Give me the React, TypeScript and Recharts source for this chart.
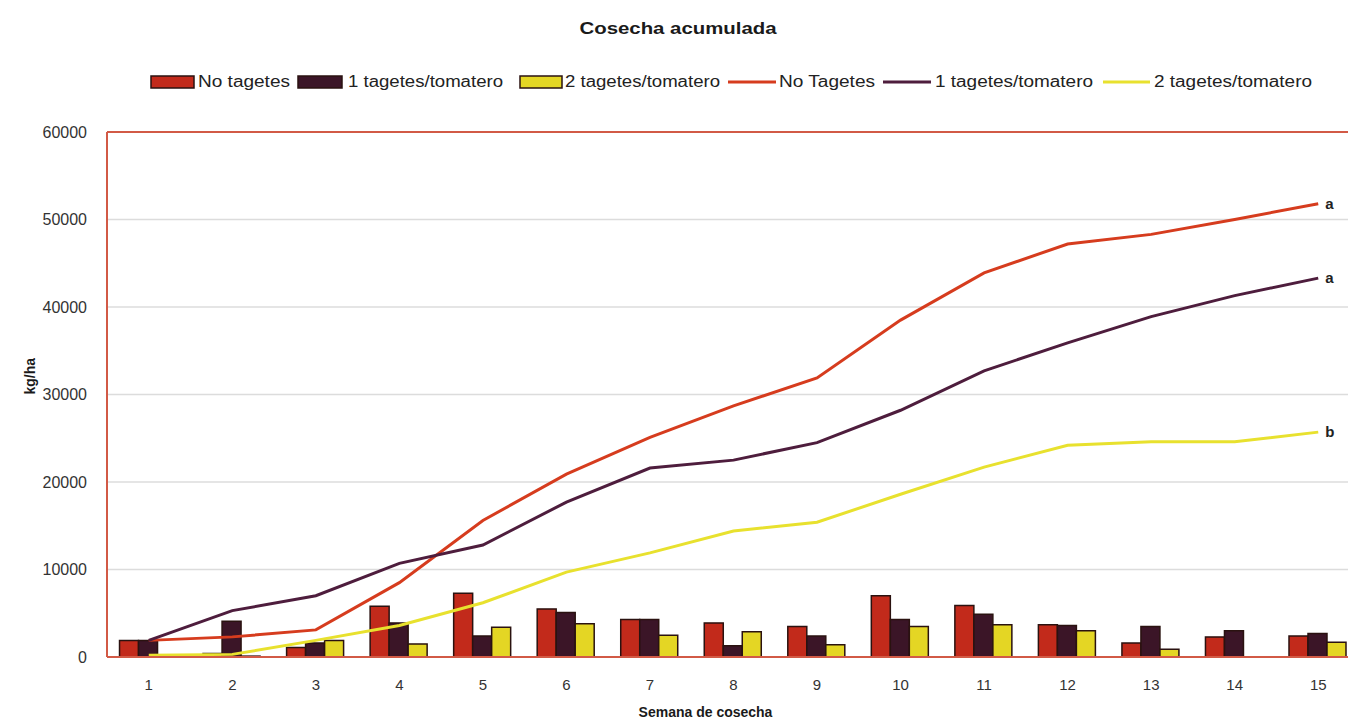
import React from 'react';
import {
  ComposedChart,
  Bar,
  Line,
  XAxis,
  YAxis,
  CartesianGrid,
  ReferenceLine,
} from 'recharts';

// Semanas de cosecha
const weeks = ['1', '2', '3', '4', '5', '6', '7', '8', '9', '10', '11', '12', '13', '14', '15'];

// Cosecha semanal (kg/ha)
const weeklyNone = [1900, 400, 1100, 5800, 7300, 5500, 4300, 3900, 3500, 7000, 5900, 3700, 1600, 2300, 2400];
const weeklyOne = [1900, 4100, 1600, 3900, 2400, 5100, 4300, 1300, 2400, 4300, 4900, 3600, 3500, 3000, 2700];
const weeklyTwo = [200, 100, 1900, 1500, 3400, 3800, 2500, 2900, 1400, 3500, 3700, 3000, 900, 0, 1700];

// Cosecha acumulada (kg/ha)
const cumNone = [1900, 2300, 3100, 8500, 15600, 20900, 25100, 28700, 31900, 38500, 43900, 47200, 48300, 50000, 51800];
const cumOne = [1900, 5300, 7000, 10700, 12800, 17700, 21600, 22500, 24500, 28200, 32700, 35900, 38900, 41300, 43300];
const cumTwo = [200, 300, 1900, 3600, 6200, 9700, 11900, 14400, 15400, 18600, 21700, 24200, 24600, 24600, 25700];

const yTicks = [0, 10000, 20000, 30000, 40000, 50000, 60000];

// Letras de significación al final de cada curva
const groupLetters = { cumNone: 'a', cumOne: 'a', cumTwo: 'b' };

const data = weeks.map((week, i) => ({
  week,
  weeklyNone: weeklyNone[i],
  weeklyOne: weeklyOne[i],
  weeklyTwo: weeklyTwo[i],
  cumNone: cumNone[i],
  cumOne: cumOne[i],
  cumTwo: cumTwo[i],
}));

const COLORS = {
  barRed: '#c22a1b',
  barDark: '#3b1527',
  barYellow: '#e4d624',
  lineRed: '#d63c1e',
  lineDark: '#4e1d3d',
  lineYellow: '#e8e12e',
  border: '#d25a46',
  outline: '#2a1210',
};

const FONT = '"Liberation Sans", Arial, sans-serif';

const endLabel = (letter: string) => (props: any) => {
  const { x, y, index } = props;
  if (index !== weeks.length - 1) return null;
  return (
    <text
      x={x + 7}
      y={y + 1}
      dominantBaseline="middle"
      fontFamily={FONT}
      fontWeight="bold"
      fontSize={15}
      fill="#222"
    >
      {letter}
    </text>
  );
};

// posiciones de la leyenda (muestra y texto)
const legendItems = [
  { type: 'bar', color: COLORS.barRed, label: 'No tagetes', sx: 151, sw: 43, tx: 198, tw: 92 },
  { type: 'bar', color: COLORS.barDark, label: '1 tagetes/tomatero', sx: 298, sw: 44, tx: 348, tw: 155 },
  { type: 'bar', color: COLORS.barYellow, label: '2 tagetes/tomatero', sx: 520, sw: 42, tx: 565, tw: 155 },
  { type: 'line', color: COLORS.lineRed, label: 'No Tagetes', sx: 728, sw: 48, tx: 779, tw: 96 },
  { type: 'line', color: COLORS.lineDark, label: '1 tagetes/tomatero', sx: 883, sw: 48, tx: 935, tw: 158 },
  { type: 'line', color: COLORS.lineYellow, label: '2 tagetes/tomatero', sx: 1103, sw: 47, tx: 1154, tw: 158 },
];

const Header = () => (
  <svg
    width={1348}
    height={110}
    style={{ position: 'absolute', left: 0, top: 0, pointerEvents: 'none' }}
  >
    <text
      x={678}
      y={30}
      textAnchor="middle"
      dominantBaseline="middle"
      fontFamily={FONT}
      fontWeight="bold"
      fontSize={16}
      textLength={197}
      lengthAdjust="spacingAndGlyphs"
      fill="#1a1a1a"
    >
      Cosecha acumulada
    </text>
    {legendItems.map((item) => (
      <g key={item.label + item.type}>
        {item.type === 'bar' ? (
          <rect
            x={item.sx}
            y={76}
            width={item.sw}
            height={12}
            fill={item.color}
            stroke={COLORS.outline}
            strokeWidth={1.5}
          />
        ) : (
          <line
            x1={item.sx}
            x2={item.sx + item.sw}
            y1={82}
            y2={82}
            stroke={item.color}
            strokeWidth={3}
          />
        )}
        <text
          x={item.tx}
          y={83}
          dominantBaseline="middle"
          fontFamily={FONT}
          fontSize={16}
          textLength={item.tw}
          lengthAdjust="spacingAndGlyphs"
          fill="#222"
        >
          {item.label}
        </text>
      </g>
    ))}
  </svg>
);

const App: React.FC = () => {
  return (
    <div
      style={{
        position: 'absolute',
        left: 0,
        top: 0,
        width: 1348,
        height: 722,
        overflow: 'hidden',
        background: '#fff',
      }}
    >
      <ComposedChart
        width={1362}
        height={722}
        data={data}
        margin={{ top: 132, right: 2, bottom: 0, left: 0 }}
        barCategoryGap="15%"
        barGap={0}
      >
        <CartesianGrid vertical={false} stroke="#dcdcdc" strokeWidth={1.5} />
        <XAxis
          dataKey="week"
          tickLine={false}
          axisLine={{ stroke: COLORS.border, strokeWidth: 2 }}
          tickMargin={16}
          tick={{ fontFamily: FONT, fontSize: 15, fill: '#333' }}
          height={65}
          label={{
            value: 'Semana de cosecha',
            position: 'insideBottom',
            offset: 0,
            dx: -28,
            dy: -5,
            fontFamily: FONT,
            fontWeight: 'bold',
            fontSize: 14,
            fill: '#1a1a1a',
          }}
        />
        <YAxis
          domain={[0, 60000]}
          ticks={yTicks}
          interval={0}
          tickLine={false}
          axisLine={{ stroke: COLORS.border, strokeWidth: 2 }}
          tickMargin={14}
          width={107}
          tick={{ fontFamily: FONT, fontSize: 16, fill: '#333' }}
          label={{
            value: 'kg/ha',
            angle: -90,
            position: 'insideLeft',
            offset: 30,
            fontFamily: FONT,
            fontWeight: 'bold',
            fontSize: 14,
            fill: '#1a1a1a',
          }}
        />
        <ReferenceLine y={60000} stroke={COLORS.border} strokeWidth={2} />
        <Bar dataKey="weeklyNone" name="No tagetes" fill={COLORS.barRed} stroke={COLORS.outline} strokeWidth={1.5} isAnimationActive={false} />
        <Bar dataKey="weeklyOne" name="1 tagetes/tomatero" fill={COLORS.barDark} stroke={COLORS.outline} strokeWidth={1.5} isAnimationActive={false} />
        <Bar dataKey="weeklyTwo" name="2 tagetes/tomatero" fill={COLORS.barYellow} stroke={COLORS.outline} strokeWidth={1.5} isAnimationActive={false} />
        <Line
          type="linear"
          dataKey="cumNone"
          name="No Tagetes"
          stroke={COLORS.lineRed}
          strokeWidth={3}
          dot={false}
          label={endLabel(groupLetters.cumNone)}
          isAnimationActive={false}
        />
        <Line
          type="linear"
          dataKey="cumOne"
          name="1 tagetes/tomatero"
          stroke={COLORS.lineDark}
          strokeWidth={3}
          dot={false}
          label={endLabel(groupLetters.cumOne)}
          isAnimationActive={false}
        />
        <Line
          type="linear"
          dataKey="cumTwo"
          name="2 tagetes/tomatero"
          stroke={COLORS.lineYellow}
          strokeWidth={3}
          dot={false}
          label={endLabel(groupLetters.cumTwo)}
          isAnimationActive={false}
        />
      </ComposedChart>
      <Header />
    </div>
  );
};

export default App;
